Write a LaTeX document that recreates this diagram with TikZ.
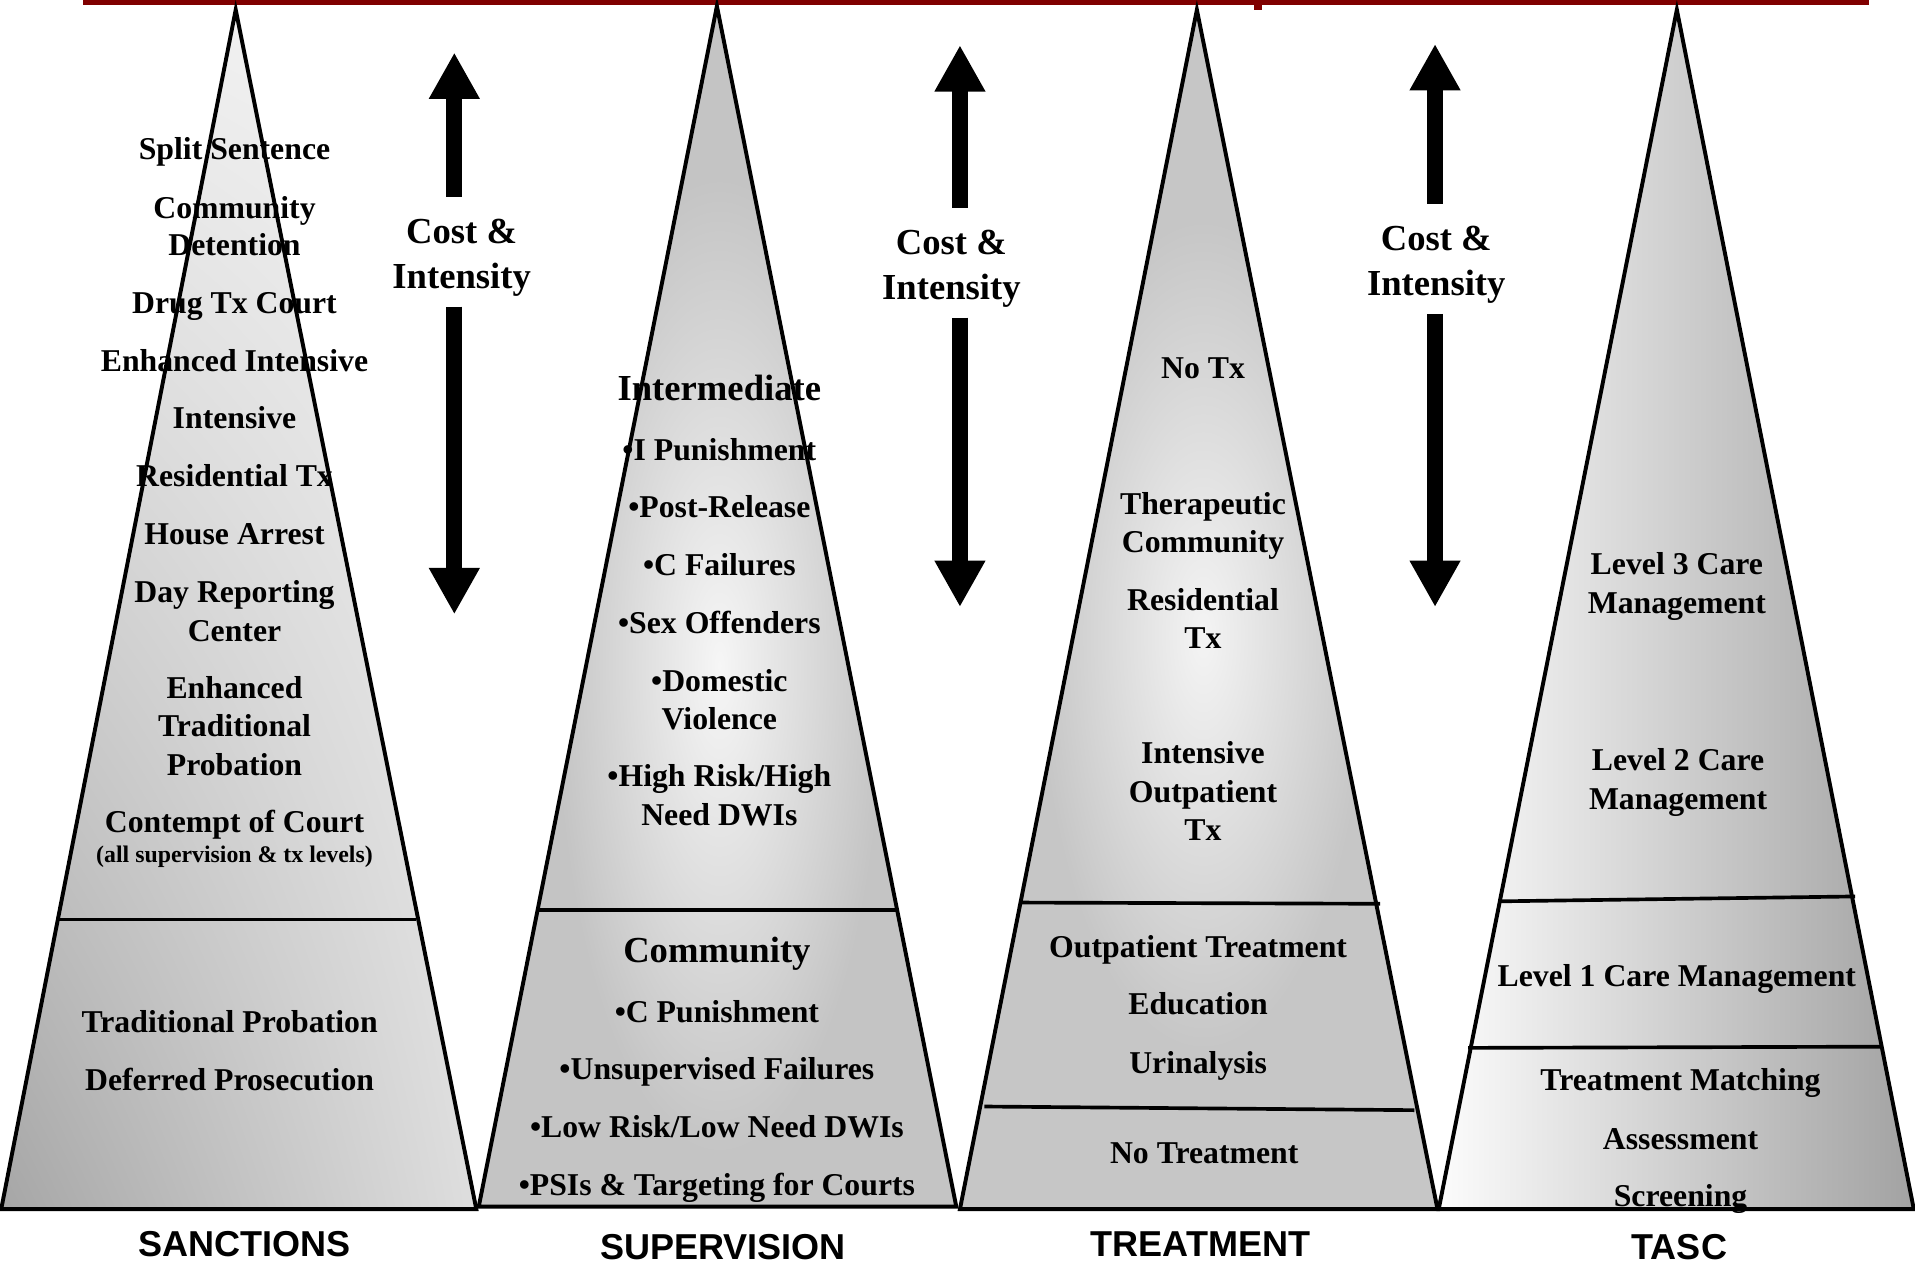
\documentclass[tikz,border=0pt]{standalone}
\usepackage{fontspec}
\setmainfont{Liberation Serif}
\newfontfamily\labelfont{Liberation Sans}
\usetikzlibrary{arrows.meta,shadings}

\definecolor{titlered}{HTML}{800000}
\definecolor{tAll}{HTML}{A6A6A6}
\definecolor{tAlr}{HTML}{DEDEDE}
\definecolor{tAul}{HTML}{EEEEEE}
\definecolor{tAur}{HTML}{F4F4F4}
\definecolor{tBgray}{HTML}{C4C4C4}
\definecolor{tBlight}{HTML}{F6F6F6}
\definecolor{tCgray}{HTML}{C6C6C6}
\definecolor{tClight}{HTML}{F4F4F4}
\definecolor{tDleft}{HTML}{FCFCFC}
\definecolor{tDright}{HTML}{A2A2A2}

\tikzset{
  itemtxt/.style={anchor=base, inner sep=0pt, font=\fontsize{26}{31}\selectfont\bfseries},
  headtxt/.style={anchor=base, inner sep=0pt, font=\fontsize{30}{37}\selectfont\bfseries},
  notetxt/.style={anchor=base, inner sep=0pt, font=\fontsize{19.5}{23}\selectfont\bfseries},
  labeltxt/.style={anchor=base, inner sep=0pt, font=\labelfont\fontsize{29.5}{34}\selectfont\bfseries},
  outline/.style={draw=black, line width=3.2pt, line join=miter},
  divider/.style={draw=black, line width=3pt},
  blockarrow/.style={draw=black, line width=13pt, -{Triangle[width=39pt,length=38pt]}},
}

\begin{document}
\begin{tikzpicture}[x=1pt,y=-1pt]
\useasboundingbox (0,0) rectangle (1568,1036);

% title rule (cut-off title)
\fill[titlered] (68,0) rectangle (1530,4.5);
\fill[titlered] (1027,0) rectangle (1033,8);

% ---------- triangle coordinates
\coordinate (A1) at (193,8);   \coordinate (L1) at (1,990);   \coordinate (R1) at (390,990);
\coordinate (A2) at (587,5);   \coordinate (L2) at (392,988); \coordinate (R2) at (783,988);
\coordinate (A3) at (980,8);   \coordinate (L3) at (786,990); \coordinate (R3) at (1177,990);
\coordinate (A4) at (1373,8);  \coordinate (L4) at (1178,990);\coordinate (R4) at (1567,990);

% ---------- fills
\shade[lower left=tAll, lower right=tAlr, upper left=tAul, upper right=tAur]
  (A1) -- (L1) -- (R1) -- cycle;

\fill[tBgray] (A2) -- (L2) -- (R2) -- cycle;
\begin{scope}
  \clip (A2) -- (L2) -- (R2) -- cycle;
  \shade[inner color=tBlight, outer color=tBgray] (589,545) ellipse (135 and 400);
\end{scope}

\fill[tCgray] (A3) -- (L3) -- (R3) -- cycle;
\begin{scope}
  \clip (A3) -- (L3) -- (R3) -- cycle;
  \shade[inner color=tClight, outer color=tCgray] (985,520) ellipse (135 and 340);
\end{scope}

\shade[left color=tDleft, right color=tDright] (A4) -- (L4) -- (R4) -- cycle;

% ---------- dividers
\coordinate (d1l) at (48,753);   \coordinate (d1r) at (341,753);
\coordinate (d2l) at (441,745);  \coordinate (d2r) at (735,745);
\coordinate (d3l) at (836,739);  \coordinate (d3r) at (1130,740);
\coordinate (d4l) at (806,906);  \coordinate (d4r) at (1158,909);
\coordinate (d5l) at (1228,738); \coordinate (d5r) at (1519,734);
\coordinate (d6l) at (1202,858); \coordinate (d6r) at (1540,857);
\draw[divider] (d1l) -- (d1r);
\draw[divider] (d2l) -- (d2r);
\draw[divider] (d3l) -- (d3r);
\draw[divider] (d4l) -- (d4r);
\draw[divider] (d5l) -- (d5r);
\draw[divider] (d6l) -- (d6r);

% ---------- outlines
\draw[outline] (A1) -- (L1) -- (R1) -- cycle;
\draw[outline] (A2) -- (L2) -- (R2) -- cycle;
\draw[outline] (A3) -- (L3) -- (R3) -- cycle;
\draw[outline] (A4) -- (L4) -- (R4) -- cycle;

% ---------- cost & intensity arrows
\node[headtxt] (c1a) at (378,199) {Cost \&};
\node[headtxt] (c1b) at (378,236) {Intensity};
\node[headtxt] (c2a) at (779,208) {Cost \&};
\node[headtxt] (c2b) at (779,245) {Intensity};
\node[headtxt] (c3a) at (1176,205) {Cost \&};
\node[headtxt] (c3b) at (1176,242) {Intensity};

\coordinate (u1s) at (372,161); \coordinate (u1t) at (372,43);
\coordinate (w1s) at (372,251); \coordinate (w1t) at (372,503);
\coordinate (u2s) at (786,170); \coordinate (u2t) at (786,37);
\coordinate (w2s) at (786,260); \coordinate (w2t) at (786,497);
\coordinate (u3s) at (1175,167); \coordinate (u3t) at (1175,36);
\coordinate (w3s) at (1175,257); \coordinate (w3t) at (1175,497);
\draw[blockarrow] (u1s) -- (u1t);
\draw[blockarrow] (w1s) -- (w1t);
\draw[blockarrow] (u2s) -- (u2t);
\draw[blockarrow] (w2s) -- (w2t);
\draw[blockarrow] (u3s) -- (u3t);
\draw[blockarrow] (w3s) -- (w3t);

% ---------- SANCTIONS texts
\node[itemtxt] (ss)  at (192,131) {Split Sentence};
\node[itemtxt] (cd1) at (192,179) {Community};
\node[itemtxt] (cd2) at (192,209) {Detention};
\node[itemtxt] (dtc) at (192,257) {Drug Tx Court};
\node[itemtxt] (ei)  at (192,304) {Enhanced Intensive};
\node[itemtxt] (int) at (192,351) {Intensive};
\node[itemtxt] (rt)  at (192,398) {Residential Tx};
\node[itemtxt] (ha)  at (192,446) {House Arrest};
\node[itemtxt] (dr1) at (192,493) {Day Reporting};
\node[itemtxt] (dr2) at (192,525) {Center};
\node[itemtxt] (et1) at (192,572) {Enhanced};
\node[itemtxt] (et2) at (192,603) {Traditional};
\node[itemtxt] (et3) at (192,635) {Probation};
\node[itemtxt] (cc)  at (192,682) {Contempt of Court};
\node[notetxt] (ccn) at (192,706.5) {(all supervision \& tx levels)};
\node[itemtxt] (tp)  at (188,845) {Traditional Probation};
\node[itemtxt] (dp)  at (188,893) {Deferred Prosecution};

% ---------- SUPERVISION texts
\node[headtxt] (im)  at (589,328) {Intermediate};
\node[itemtxt] (ip)  at (589,377) {•I Punishment};
\node[itemtxt] (pr)  at (589,424) {•Post-Release};
\node[itemtxt] (cf)  at (589,471) {•C Failures};
\node[itemtxt] (so)  at (589,519) {•Sex Offenders};
\node[itemtxt] (dv1) at (589,566) {•Domestic};
\node[itemtxt] (dv2) at (589,597) {Violence};
\node[itemtxt] (hr1) at (589,644) {•High Risk/High};
\node[itemtxt] (hr2) at (589,676) {Need DWIs};
\node[headtxt] (cm)  at (587,788) {Community};
\node[itemtxt] (cp)  at (587,837) {•C Punishment};
\node[itemtxt] (uf)  at (587,884) {•Unsupervised Failures};
\node[itemtxt] (lr)  at (587,931) {•Low Risk/Low Need DWIs};
\node[itemtxt] (psi) at (587,979) {•PSIs \& Targeting for Courts};

% ---------- TREATMENT texts
\node[itemtxt] (ntx) at (985,310) {No Tx};
\node[itemtxt] (tc1) at (985,421) {Therapeutic};
\node[itemtxt] (tc2) at (985,452) {Community};
\node[itemtxt] (rs1) at (985,500) {Residential};
\node[itemtxt] (rs2) at (985,531) {Tx};
\node[itemtxt] (io1) at (985,625) {Intensive};
\node[itemtxt] (io2) at (985,657) {Outpatient};
\node[itemtxt] (io3) at (985,688) {Tx};
\node[itemtxt] (ot)  at (981,784) {Outpatient Treatment};
\node[itemtxt] (ed)  at (981,831) {Education};
\node[itemtxt] (ur)  at (981,879) {Urinalysis};
\node[itemtxt] (ntr) at (986,953) {No Treatment};

% ---------- TASC texts
\node[itemtxt] (l31) at (1373,470) {Level 3 Care};
\node[itemtxt] (l32) at (1373,502) {Management};
\node[itemtxt] (l21) at (1374,631) {Level 2 Care};
\node[itemtxt] (l22) at (1374,663) {Management};
\node[itemtxt] (l1)  at (1373,808) {Level 1 Care Management};
\node[itemtxt] (tm)  at (1376,893) {Treatment Matching};
\node[itemtxt] (as)  at (1376,941) {Assessment};
\node[itemtxt] (sc)  at (1376,988) {Screening};

% ---------- column labels
\node[labeltxt] (lab1) at (200,1029) {SANCTIONS};
\node[labeltxt] (lab2) at (592,1031) {SUPERVISION};
\node[labeltxt] (lab3) at (983,1029) {TREATMENT};
\node[labeltxt] (lab4) at (1375,1031.5) {TASC};
\end{tikzpicture}
\end{document}
